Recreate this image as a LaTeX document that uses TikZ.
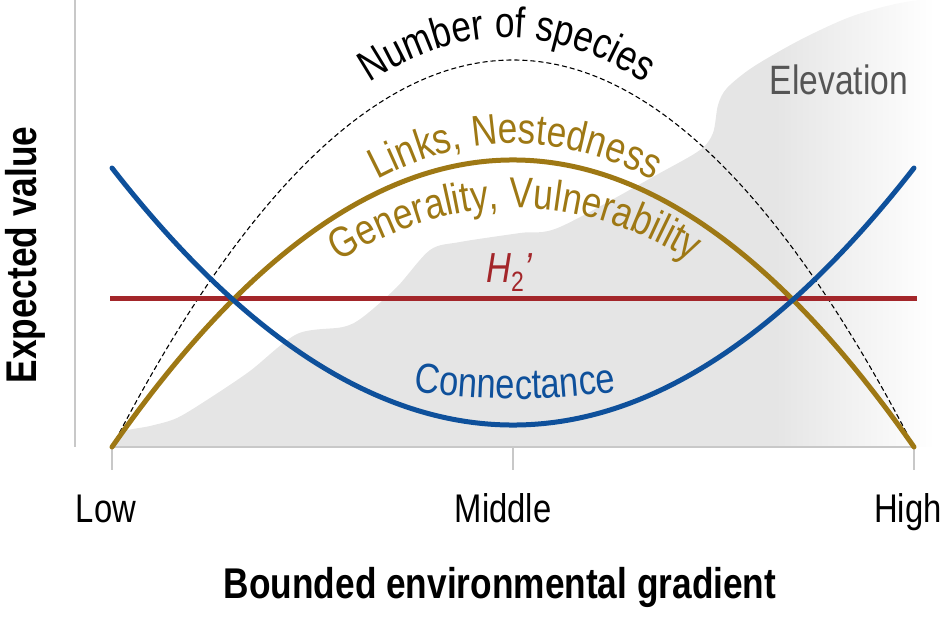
\documentclass[tikz,border=0pt]{standalone}
\usepackage{fontspec}
\setmainfont{Liberation Sans}[FakeStretch=0.82]
\usetikzlibrary{decorations.text}
\definecolor{cblue}{RGB}{14,80,155}
\definecolor{cgold}{RGB}{158,120,20}
\definecolor{cred}{RGB}{163,38,42}
\definecolor{elev}{RGB}{229,229,229}
\definecolor{axisgray}{RGB}{200,200,200}
\definecolor{elevtext}{RGB}{85,85,85}
\tikzset{
  curve/.style={line width=5pt, line cap=round},
  axisline/.style={draw=axisgray, line width=1.4pt},
  ticklabel/.style={font=\fontsize{40}{40}\selectfont, anchor=base, inner sep=0pt},
  axistitle/.style={font=\fontsize{43}{43}\selectfont\bfseries, anchor=base, inner sep=0pt},
}
\begin{document}
\begin{tikzpicture}[x=1pt,y=-1pt]
\useasboundingbox (0,0) rectangle (947,628);
% elevation area
\begin{scope}
\clip plot[smooth, tension=0.5] coordinates {(114,447) (122,432) (150,426) (177,418) (210,398) (250,371) (297,334) (343,327) (363,317) (397,287) (430,250) (460,242) (520,233) (560,227) (660,173) (700,150) (713,133) (718,105) (727,88) (753,67) (800,40) (850,17) (900,3) (960,-5)} -- (960,447) -- cycle;
\fill[elev] (100,-10) rectangle (775,450);
\shade[left color=elev, right color=white] (775,-10) rectangle (935,450);
\end{scope}
% axes
\coordinate (yt) at (75,0);
\coordinate (yb) at (75,447);
\coordinate (lo) at (112,447);
\coordinate (mi) at (513,447);
\coordinate (hi) at (914,447);
\coordinate (lot) at (112,470);
\coordinate (mit) at (513,470);
\coordinate (hit) at (914,470);
\draw[axisline] (yt) -- (yb);
\draw[axisline] (lo) -- (hi);
\draw[axisline] (lo) -- (lot);
\draw[axisline] (mi) -- (mit);
\draw[axisline] (hi) -- (hit);
% curves
\coordinate (bl) at (112,168);
\coordinate (br) at (914,168);
\draw[black, line width=1.1pt, dash pattern=on 5pt off 3pt] (lo) .. controls (379.3,-69) and (646.7,-69) .. (hi);
\draw[cred, line width=5pt] (110,298) -- (917,298);
\draw[curve, cgold] (lo) .. controls (379.3,64.3) and (646.7,64.3) .. (hi);
\draw[curve, cblue] (bl) .. controls (379.3,510.7) and (646.7,510.7) .. (br);
% labels along curves
\path[decorate, decoration={text along path, text align=center,
  text={|\fontsize{43}{43}\selectfont\color{black}|Number of species}}]
  (355,93) .. controls (456.3,19) and (557.7,19) .. (659,93);
\path[decorate, decoration={text along path, text align=center,
  text={|\fontsize{43}{43}\selectfont\color{cgold}|Links, Nestedness}}]
  (370,184) .. controls (466.7,130) and (563.3,130) .. (660,184);
\path[decorate, decoration={text along path, text align=center,
  text={|\fontsize{43}{43}\selectfont\color{cgold}|Generality, Vulnerability}}]
  (333,265) .. controls (455,189) and (575,189) .. (697,265);
\path[decorate, decoration={text along path, text align=center,
  text={|\fontsize{42}{42}\selectfont\color{cblue}|Connectance}}]
  (405,390) .. controls (478,402) and (552,402) .. (625,390);
% other labels
\node[anchor=base, inner sep=0pt, text=elevtext, font=\fontsize{41}{41}\selectfont] (elevlab) at (839,95) {Elevation};
\node[anchor=base, inner sep=0pt, text=cred, font=\fontsize{42}{42}\selectfont] (hlab) at (509,283) {\itshape H\raisebox{-9pt}{\upshape\fontsize{28}{28}\selectfont 2}\itshape '};
\node[ticklabel] (lowlab) at (106,522) {Low};
\node[ticklabel] (midlab) at (503,522) {Middle};
\node[ticklabel] (highlab) at (908,522) {High};
\node[axistitle] (xtitle) at (500,598) {Bounded environmental gradient};
\node[axistitle, rotate=90] (ytitle) at (36,255) {Expected value};
\end{tikzpicture}
\end{document}
